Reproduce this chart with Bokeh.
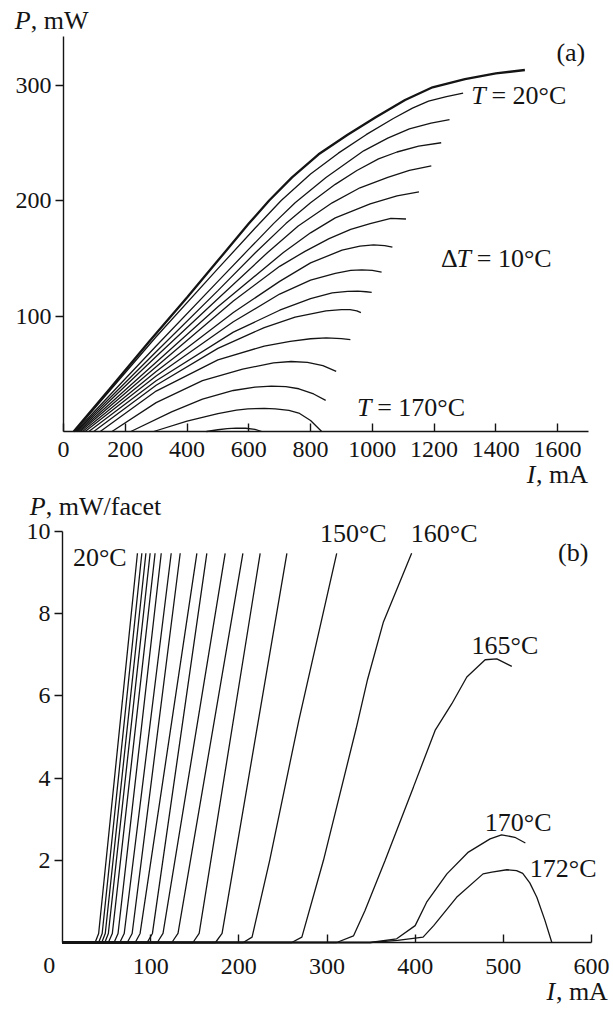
from bokeh.plotting import figure
from bokeh.layouts import column
from bokeh.models import Label, FixedTicker, Range1d
from bokeh.embed import file_html
from bokeh.resources import INLINE

FONT = "Liberation Serif"
INK = "#141414"

# ---------------- panel (a): P (mW) vs I (mA), T = 20..170 C step 10 ----------------
a_xticks = [0, 200, 400, 600, 800, 1000, 1200, 1400, 1600]
a_yticks = [100, 200, 300]

a020_I = [33, 150, 281, 400, 500, 600, 666, 740, 826, 920, 1011, 1106, 1195, 1300, 1400, 1494]
a020_P = [0, 37, 79, 116, 148, 180, 200, 220, 240, 257, 272, 287, 298, 305, 310, 313]
a030_I = [36, 300, 500, 620, 705, 800, 890, 980, 1068, 1130, 1182, 1240, 1294]
a030_P = [0, 82, 141, 176, 200, 223, 241, 257, 271, 280, 286, 290, 293]
a040_I = [39, 300, 500, 597, 680, 750, 850, 972, 1050, 1120, 1190, 1250]
a040_P = [0, 74, 130, 157, 180, 198, 220, 243, 254, 262, 267, 270]
a050_I = [42, 300, 500, 622, 720, 800, 880, 950, 1020, 1080, 1150, 1223]
a050_P = [0, 69, 122, 155, 180, 198, 214, 226, 236, 242, 247, 250]
a060_I = [46, 300, 500, 661, 760, 870, 960, 1050, 1120, 1191]
a060_P = [0, 65, 115, 155, 178, 198, 211, 220, 226, 230]
a070_I = [50, 300, 500, 712, 800, 880, 993, 1080, 1151]
a070_P = [0, 60, 108, 155, 172, 185, 197, 204, 207.5]
a080_I = [55, 300, 550, 700, 782, 860, 930, 993, 1060, 1109]
a080_P = [0, 56, 113, 143, 156, 167, 175, 180, 184.5, 184]
a090_I = [62, 300, 550, 700, 800, 902, 960, 1004, 1040, 1065]
a090_P = [0, 52, 103, 130, 146, 157, 160.5, 161.6, 161, 159.6]
a100_I = [70, 300, 550, 700, 800, 880, 930, 966, 1000, 1030]
a100_P = [0, 48, 95, 119, 131, 137, 139.5, 140, 139.5, 138]
a110_I = [82, 300, 550, 700, 800, 870, 920, 953, 980, 998]
a110_P = [0, 44, 86, 105, 115, 120, 121.3, 121.5, 121, 120.4]
a120_I = [98, 300, 500, 650, 750, 850, 900, 928, 950, 963]
a120_P = [0, 40, 72, 90, 99, 104.5, 105.5, 105.6, 104.5, 103]
a130_I = [119, 300, 500, 650, 734, 800, 851, 900, 929]
a130_P = [0, 35, 62, 74, 78, 80.3, 81, 80.5, 79.5]
a140_I = [157, 300, 450, 580, 680, 737, 790, 840, 883]
a140_P = [0, 25, 44, 54, 59.5, 60.6, 59.8, 57, 52]
a150_I = [218, 350, 450, 550, 620, 673, 720, 762, 810, 849]
a150_P = [0, 17, 28, 35.5, 38.5, 39.3, 38.8, 37, 32.5, 27]
a160_I = [292, 400, 500, 560, 597, 650, 686, 730, 762, 800, 836]
a160_P = [0, 9, 15.5, 18.5, 19.6, 20, 19.6, 18.2, 16, 9.5, 0]
a170_I = [463, 500, 530, 559, 590, 620, 642]
a170_P = [0, 1.5, 2.5, 3, 2.8, 1.8, 0]

a_curves = [(a020_I, a020_P), (a030_I, a030_P), (a040_I, a040_P), (a050_I, a050_P),
            (a060_I, a060_P), (a070_I, a070_P), (a080_I, a080_P), (a090_I, a090_P),
            (a100_I, a100_P), (a110_I, a110_P), (a120_I, a120_P), (a130_I, a130_P),
            (a140_I, a140_P), (a150_I, a150_P), (a160_I, a160_P), (a170_I, a170_P)]

# ---------------- panel (b): P (mW/facet) vs I (mA) ----------------
b_xticks = [100, 200, 300, 400, 500, 600]
b_yticks = [2, 4, 6, 8, 10]

b01_I = [0, 37, 41, 85];        b01_P = [0, 0, 0.22, 9.47]
b02_I = [0, 41, 45, 90];        b02_P = [0, 0, 0.22, 9.47]
b03_I = [0, 44.5, 48.5, 94.6];  b03_P = [0, 0, 0.22, 9.47]
b04_I = [0, 48, 52, 99.4];      b04_P = [0, 0, 0.22, 9.47]
b05_I = [0, 52, 56.5, 105];     b05_P = [0, 0, 0.22, 9.47]
b06_I = [0, 58.5, 63, 112];     b06_P = [0, 0, 0.22, 9.47]
b07_I = [0, 65, 70, 123.3];     b07_P = [0, 0, 0.22, 9.47]
b08_I = [0, 73.5, 79, 133.5];   b08_P = [0, 0, 0.22, 9.47]
b09_I = [0, 82.5, 88, 152.4];   b09_P = [0, 0, 0.22, 9.47]
b10_I = [0, 96, 102, 163.7];    b10_P = [0, 0, 0.22, 9.47]
b11_I = [0, 107.5, 114, 184.5]; b11_P = [0, 0, 0.22, 9.47]
b12_I = [0, 124, 131, 204.6];   b12_P = [0, 0, 0.22, 9.47]
b13_I = [0, 148, 155, 224.2];   b13_P = [0, 0, 0.22, 9.47]
b14_I = [0, 173.5, 181, 254.5]; b14_P = [0, 0, 0.22, 9.47]
b150_I = [0, 205, 215, 235, 268, 311]
b150_P = [0, 0, 0.13, 2.0, 5.4, 9.47]
b160_I = [0, 260, 271.5, 296, 333, 346, 364, 396]
b160_P = [0, 0, 0.13, 2.0, 5.2, 6.4, 7.8, 9.47]
b165_I = [0, 311, 330, 343, 366, 398, 422.6, 441.6, 458.6, 479.4, 492.6, 509.6]
b165_P = [0, 0, 0.16, 0.77, 2.0, 3.78, 5.16, 5.81, 6.46, 6.88, 6.9, 6.72]
b170_I = [0, 349, 379, 400, 413, 436, 460.4, 485, 498, 513, 525]
b170_P = [0, 0, 0.09, 0.41, 0.98, 1.67, 2.2, 2.52, 2.62, 2.56, 2.42]
b172_I = [0, 349, 380, 409, 421, 447, 477, 487, 504, 515, 522, 530, 538, 547, 555]
b172_P = [0, 0, 0.05, 0.13, 0.41, 1.1, 1.67, 1.71, 1.77, 1.75, 1.68, 1.45, 1.1, 0.55, 0]

b_curves = [(b01_I, b01_P), (b02_I, b02_P), (b03_I, b03_P), (b04_I, b04_P), (b05_I, b05_P),
            (b06_I, b06_P), (b07_I, b07_P), (b08_I, b08_P), (b09_I, b09_P), (b10_I, b10_P),
            (b11_I, b11_P), (b12_I, b12_P), (b13_I, b13_P), (b14_I, b14_P),
            (b150_I, b150_P), (b160_I, b160_P), (b165_I, b165_P), (b170_I, b170_P),
            (b172_I, b172_P)]

TICK_FS = "24px"
ANN_FS = "26px"
EM = 26.0


def style(p, xticks, yticks, xbounds, ybounds, label_standoff):
    p.background_fill_color = "white"
    p.border_fill_color = "white"
    p.outline_line_color = None
    p.grid.grid_line_color = None
    for ax in (p.xaxis[0], p.yaxis[0]):
        ax.fixed_location = 0
        ax.axis_line_color = INK
        ax.axis_line_width = 1.4
        ax.major_tick_line_color = INK
        ax.major_tick_line_width = 1.4
        ax.minor_tick_line_color = None
        ax.major_label_text_font = FONT
        ax.major_label_text_font_size = TICK_FS
        ax.major_label_text_color = INK
    p.xaxis.bounds = xbounds
    p.yaxis.bounds = ybounds
    p.xaxis.ticker = FixedTicker(ticks=xticks)
    p.yaxis.ticker = FixedTicker(ticks=yticks)
    p.xaxis.major_tick_in = 8
    p.xaxis.major_tick_out = 0
    p.xaxis.major_label_standoff = label_standoff
    p.yaxis.major_tick_in = 0
    p.yaxis.major_tick_out = 8
    p.yaxis.major_label_standoff = 4


def text(p, x, y, parts):
    """parts: list of (string, italic, width_em) placed left to right"""
    off = 0.0
    for s, it, w in parts:
        p.add_layout(Label(x=x, y=y, x_offset=off, text=s, text_font=FONT,
                           text_font_size=ANN_FS, text_color=INK,
                           text_font_style="italic" if it else "normal",
                           text_align="left", text_baseline="middle"))
        off += w * EM


W = 613

# ---------------- figure (a) ----------------
# frame covers the whole canvas; axes sit at data zero
A_H = 490
ax_sx = 525.0 / 1700.0
ax_sy = 395.0 / 342.0
pa = figure(width=W, height=A_H,
            x_range=Range1d(-63 / ax_sx, 1700 + (W - 588) / ax_sx),
            y_range=Range1d(-(A_H - 431) / ax_sy, 342 + 36 / ax_sy),
            output_backend="svg", toolbar_location=None, min_border=0)
style(pa, a_xticks, a_yticks, (0, 1700), (0, 342), 10)
for i, (xs, ys) in enumerate(a_curves):
    pa.line(xs, ys, line_color=INK, line_width=2.3 if i == 0 else 1.3)

text(pa, -158, 355.8, [("P", True, 0.62), (", mW", False, 2)])
text(pa, 1596, 328, [("(a)", False, 1.2)])
text(pa, 1320, 291, [("T", True, 0.78), ("= 20°C", False, 3)])
text(pa, 1222, 150, [("Δ", False, 0.6), ("T", True, 0.78), ("= 10°C", False, 3)])
text(pa, 950, 20.8, [("T", True, 0.78), ("= 170°C", False, 3)])
text(pa, 1500, -37.2, [("I", True, 0.36), (", mA", False, 2)])

# ---------------- figure (b) ----------------
B_TOP = A_H
B_H = 517
bx_sx = 529.0 / 600.0
bx_sy = 411.0 / 10.0
pb = figure(width=W, height=B_H,
            x_range=Range1d(-62 / bx_sx, 600 + (W - 591) / bx_sx),
            y_range=Range1d(-(B_TOP + B_H - 942) / bx_sy, 10 + (531 - B_TOP) / bx_sy),
            output_backend="svg", toolbar_location=None, min_border=0)
style(pb, b_xticks, b_yticks, (0, 600), (0, 10), 16)
for xs, ys in b_curves:
    pb.line(xs, ys, line_color=INK, line_width=1.3)

text(pb, -37.2, 10.6, [("P", True, 0.62), (", mW/facet", False, 4)])
text(pb, 11.8, 9.37, [("20°C", False, 2)])
text(pb, 292, 9.95, [("150°C", False, 2)])
text(pb, 395, 9.95, [("160°C", False, 2)])
text(pb, 562, 9.5, [("(b)", False, 1.2)])
text(pb, 464, 7.23, [("165°C", False, 2)])
text(pb, 479, 2.93, [("170°C", False, 2)])
text(pb, 530, 1.8, [("172°C", False, 2)])
pb.add_layout(Label(x=-15, y=-0.56, text="0", text_font=FONT, text_font_size=TICK_FS,
                    text_color=INK, text_align="center", text_baseline="middle"))
text(pb, 549, -1.19, [("I", True, 0.36), (", mA", False, 2)])

layout = column(pa, pb, spacing=0)
open("out.html", "w").write(file_html(layout, INLINE))
